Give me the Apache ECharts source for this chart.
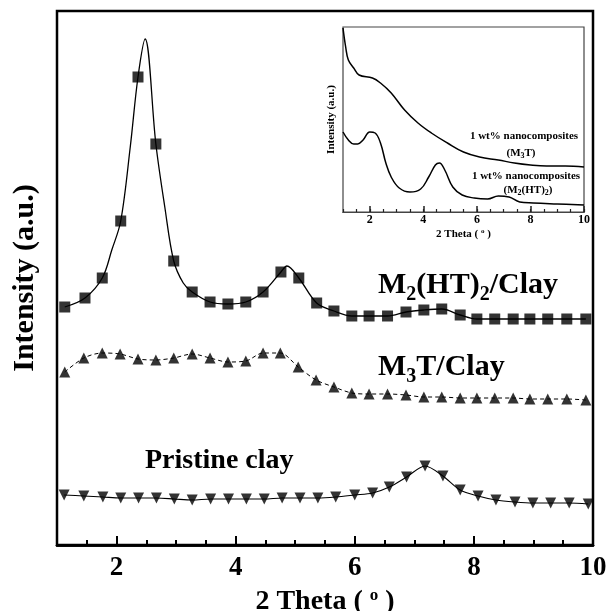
<!DOCTYPE html>
<html>
<head>
<meta charset="utf-8">
<script src="https://cdn.jsdelivr.net/npm/echarts@6/dist/echarts.min.js"></script>
<style>
  html, body { margin: 0; padding: 0; background: #fff; }
  #chart { width: 609px; height: 611px; }
</style>
</head>
<body>
<div id="chart"></div>
<script>
var serif = "Liberation Serif"

// main plot: marker positions (2 theta) and intensities (a.u.)
var sqTheta = [1.13, 1.47, 1.76, 2.07, 2.36, 2.66, 2.96, 3.27, 3.57, 3.87, 4.17, 4.46, 4.76, 5.06, 5.36,
    5.65, 5.95, 6.24, 6.55, 6.86, 7.16, 7.46, 7.77, 8.05, 8.35, 8.66, 8.94, 9.24, 9.56, 9.88]
var sqInt = [238, 247, 267, 324, 468, 401, 284, 253, 243, 241, 243, 253, 273, 267, 242,
    234, 229, 229, 229, 233, 235, 236, 230, 226, 226, 226, 226, 226, 226, 226]
// points of the fitted curve between markers
var sqCurveTheta = [1.92, 2.23, 2.48, 2.81, 3.12, 4.86]
var sqCurveInt = [295, 398, 506, 338, 262, 279]

var m3tTheta = [1.13, 1.45, 1.76, 2.06, 2.36, 2.66, 2.96, 3.27, 3.57, 3.87, 4.17, 4.46, 4.75, 5.05, 5.35,
    5.65, 5.95, 6.24, 6.55, 6.86, 7.16, 7.46, 7.77, 8.05, 8.35, 8.66, 8.94, 9.24, 9.56, 9.88]
var m3tInt = [173, 187, 192, 191, 186, 185, 187, 191, 187, 183, 184, 192, 192, 178, 165,
    158, 152, 151, 151, 150, 148, 148, 147, 147, 147, 147, 146, 146, 146, 145]

var clayTheta = [1.12, 1.45, 1.77, 2.07, 2.37, 2.67, 2.97, 3.27, 3.58, 3.88, 4.18, 4.48, 4.78, 5.08, 5.38,
    5.68, 6.00, 6.30, 6.58, 6.87, 7.18, 7.48, 7.77, 8.07, 8.37, 8.69, 8.99, 9.29, 9.60, 9.92]
var clayInt = [50, 49, 48, 47, 47, 47, 46, 45, 46, 46, 46, 46, 47, 47, 47,
    48, 50, 52, 58, 68, 79, 69, 55, 49, 45, 43, 42, 42, 42, 41]

// inset: 1 wt% nanocomposites
var insetM3tTheta = [1.0, 1.1, 1.2, 1.4, 1.6, 2.1, 2.4, 2.8, 3.3, 3.8, 4.3, 4.9, 5.5, 6.1, 6.8, 7.4, 8.0, 8.6, 9.3, 10.0]
var insetM3tInt = [184, 165, 152, 144, 137, 134, 129, 119, 102, 89, 79, 69, 60, 55, 52, 49, 47, 46, 46, 45]
var insetM2Theta = [1.0, 1.2, 1.4, 1.55, 1.75, 2.0, 2.2, 2.4, 2.6, 2.8, 3.1, 3.5, 3.9, 4.2, 4.45, 4.6, 4.8,
    5.1, 5.45, 5.9, 6.4, 6.8, 7.2, 7.6, 8.1, 9.0, 10.0]
var insetM2Int = [80, 72, 68, 68, 72, 80, 79, 69, 49, 35, 24, 20, 23, 35, 47, 49, 42,
    25, 17, 14, 13, 16, 15, 10, 9, 8, 7]

var majorTicks = [2, 4, 6, 8, 10]

function pairs(xs, ys) {
    return xs.map((x, i) => [x, ys[i]])
}

var sqCurve = pairs(sqTheta.concat(sqCurveTheta), sqInt.concat(sqCurveInt))
    .sort((a, b) => a[0] - b[0])

var chart = echarts.init(document.querySelector("#chart"))

var option = {
    animation: false,
    grid: [
        { left: 57, top: 11, right: 16, bottom: 66, show: true, borderColor: "#000", borderWidth: 2.5, outerBoundsMode: "none" },
        { left: 343, top: 27, width: 241, height: 185, show: true, borderColor: "#444", borderWidth: 1.2, outerBoundsMode: "none" }
    ],
    xAxis: [
        {
            type: "value", gridIndex: 0, position: "bottom", min: 1, max: 10,
            axisLine: { show: true, lineStyle: { color: "#000", width: 2.5 } },
            splitLine: { show: false },
            axisTick: { show: true, inside: true, length: 9, customValues: majorTicks, lineStyle: { color: "#000", width: 2 } },
            axisLabel: {
                customValues: majorTicks, margin: 10,
                color: "#000", fontFamily: serif, fontWeight: "bold", fontSize: 27
            },
            name: "2 Theta ( {o|o} )",
            nameLocation: "middle",
            nameGap: 33,
            nameTextStyle: {
                color: "#000", fontFamily: serif, fontWeight: "bold", fontSize: 28, lineHeight: 30,
                rich: { o: { fontFamily: serif, fontWeight: "bold", fontSize: 17, lineHeight: 16, verticalAlign: "top" } }
            }
        },
        {
            type: "value", gridIndex: 0, position: "bottom", min: 1, max: 10, interval: 0.5,
            axisLine: { show: true, lineStyle: { color: "#000", width: 2.5 } },
            splitLine: { show: false },
            axisTick: { show: true, inside: true, length: 5, lineStyle: { color: "#000", width: 2 } },
            axisLabel: { show: false }
        },
        {
            type: "value", gridIndex: 1, position: "bottom", min: 1, max: 10,
            axisLine: { show: true, lineStyle: { color: "#444", width: 1.2 } },
            splitLine: { show: false },
            axisTick: { show: true, inside: true, length: 6, customValues: majorTicks, lineStyle: { color: "#222", width: 1.5 } },
            axisLabel: {
                customValues: majorTicks, margin: 2,
                color: "#000", fontFamily: serif, fontWeight: "bold", fontSize: 12
            },
            name: "2 Theta ( {o|o} )",
            nameLocation: "middle",
            nameGap: 16,
            nameTextStyle: {
                color: "#000", fontFamily: serif, fontWeight: "bold", fontSize: 11, lineHeight: 12,
                rich: { o: { fontFamily: serif, fontWeight: "bold", fontSize: 7, lineHeight: 7, verticalAlign: "top" } }
            }
        },
        {
            type: "value", gridIndex: 1, position: "bottom", min: 1, max: 10, interval: 0.5,
            axisLine: { show: true, lineStyle: { color: "#444", width: 1.2 } },
            splitLine: { show: false },
            axisTick: { show: true, inside: true, length: 3, lineStyle: { color: "#222", width: 1.2 } },
            axisLabel: { show: false }
        }
    ],
    yAxis: [
        {
            type: "value", gridIndex: 0, min: 0, max: 534,
            axisLine: { show: false }, axisTick: { show: false }, axisLabel: { show: false },
            splitLine: { show: false },
            name: "Intensity (a.u.)",
            nameLocation: "middle",
            nameGap: 17,
            nameTextStyle: { color: "#000", fontFamily: serif, fontWeight: "bold", fontSize: 30 }
        },
        {
            type: "value", gridIndex: 1, min: 0, max: 185,
            axisLine: { show: false }, axisTick: { show: false }, axisLabel: { show: false },
            splitLine: { show: false },
            name: "Intensity (a.u.)",
            nameLocation: "middle",
            nameGap: 6,
            nameTextStyle: { color: "#000", fontFamily: serif, fontWeight: "bold", fontSize: 11 }
        }
    ],
    series: [
        {
            type: "line", xAxisIndex: 0, yAxisIndex: 0,
            data: sqCurve, smooth: 0.35, showSymbol: false,
            lineStyle: { color: "#000", width: 1.3 }
        },
        {
            type: "scatter", xAxisIndex: 0, yAxisIndex: 0,
            data: pairs(sqTheta, sqInt), symbol: "rect", symbolSize: 11,
            itemStyle: { color: "#000" }
        },
        {
            type: "line", xAxisIndex: 0, yAxisIndex: 0,
            data: pairs(m3tTheta, m3tInt), smooth: 0.3, showSymbol: false,
            lineStyle: { color: "#000", width: 1, type: [4, 3] }
        },
        {
            type: "scatter", xAxisIndex: 0, yAxisIndex: 0,
            data: pairs(m3tTheta, m3tInt), symbol: "triangle", symbolSize: 11,
            itemStyle: { color: "#000" }
        },
        {
            type: "line", xAxisIndex: 0, yAxisIndex: 0,
            data: pairs(clayTheta, clayInt), smooth: 0.3, showSymbol: false,
            lineStyle: { color: "#000", width: 1.1 }
        },
        {
            type: "scatter", xAxisIndex: 0, yAxisIndex: 0,
            data: pairs(clayTheta, clayInt), symbol: "triangle", symbolRotate: 180, symbolSize: 11,
            itemStyle: { color: "#000" }
        },
        {
            type: "line", xAxisIndex: 2, yAxisIndex: 1,
            data: pairs(insetM3tTheta, insetM3tInt), smooth: 0.4, showSymbol: false,
            lineStyle: { color: "#000", width: 1.5 }
        },
        {
            type: "line", xAxisIndex: 2, yAxisIndex: 1,
            data: pairs(insetM2Theta, insetM2Int), smooth: 0.4, showSymbol: false,
            lineStyle: { color: "#000", width: 1.5 }
        }
    ],
    graphic: [
        {
            type: "text", x: 378, y: 265,
            style: {
                text: "{m|M}{s|2}{m|(HT)}{s|2}{m|/Clay}",
                verticalAlign: "top", textVerticalAlign: "top", fill: "#000",
                rich: {
                    m: { fontFamily: serif, fontWeight: "bold", fontSize: 30, lineHeight: 40 },
                    s: { fontFamily: serif, fontWeight: "bold", fontSize: 20, lineHeight: 14, verticalAlign: "bottom" }
                }
            }
        },
        {
            type: "text", x: 378, y: 347,
            style: {
                text: "{m|M}{s|3}{m|T/Clay}",
                verticalAlign: "top", textVerticalAlign: "top", fill: "#000",
                rich: {
                    m: { fontFamily: serif, fontWeight: "bold", fontSize: 30, lineHeight: 40 },
                    s: { fontFamily: serif, fontWeight: "bold", fontSize: 20, lineHeight: 14, verticalAlign: "bottom" }
                }
            }
        },
        {
            type: "text", x: 145, y: 461,
            style: {
                text: "Pristine clay", fill: "#000",
                font: "bold 28px \"Liberation Serif\"",
                verticalAlign: "middle", textVerticalAlign: "middle"
            }
        },
        {
            type: "text", x: 524, y: 136,
            style: {
                text: "1 wt% nanocomposites", fill: "#000",
                font: "bold 11px \"Liberation Serif\"",
                align: "center", textAlign: "center", verticalAlign: "middle", textVerticalAlign: "middle"
            }
        },
        {
            type: "text", x: 521, y: 146,
            style: {
                text: "{m|(M}{s|3}{m|T)}", fill: "#000",
                align: "center", textAlign: "center", verticalAlign: "top", textVerticalAlign: "top",
                rich: {
                    m: { fontFamily: serif, fontWeight: "bold", fontSize: 11, lineHeight: 14 },
                    s: { fontFamily: serif, fontWeight: "bold", fontSize: 8, lineHeight: 6, verticalAlign: "bottom" }
                }
            }
        },
        {
            type: "text", x: 526, y: 176,
            style: {
                text: "1 wt% nanocomposites", fill: "#000",
                font: "bold 11px \"Liberation Serif\"",
                align: "center", textAlign: "center", verticalAlign: "middle", textVerticalAlign: "middle"
            }
        },
        {
            type: "text", x: 528, y: 183,
            style: {
                text: "{m|(M}{s|2}{m|(HT)}{s|2}{m|)}", fill: "#000",
                align: "center", textAlign: "center", verticalAlign: "top", textVerticalAlign: "top",
                rich: {
                    m: { fontFamily: serif, fontWeight: "bold", fontSize: 11, lineHeight: 14 },
                    s: { fontFamily: serif, fontWeight: "bold", fontSize: 8, lineHeight: 6, verticalAlign: "bottom" }
                }
            }
        }
    ]
}

chart.setOption(option)
</script>
</body>
</html>
